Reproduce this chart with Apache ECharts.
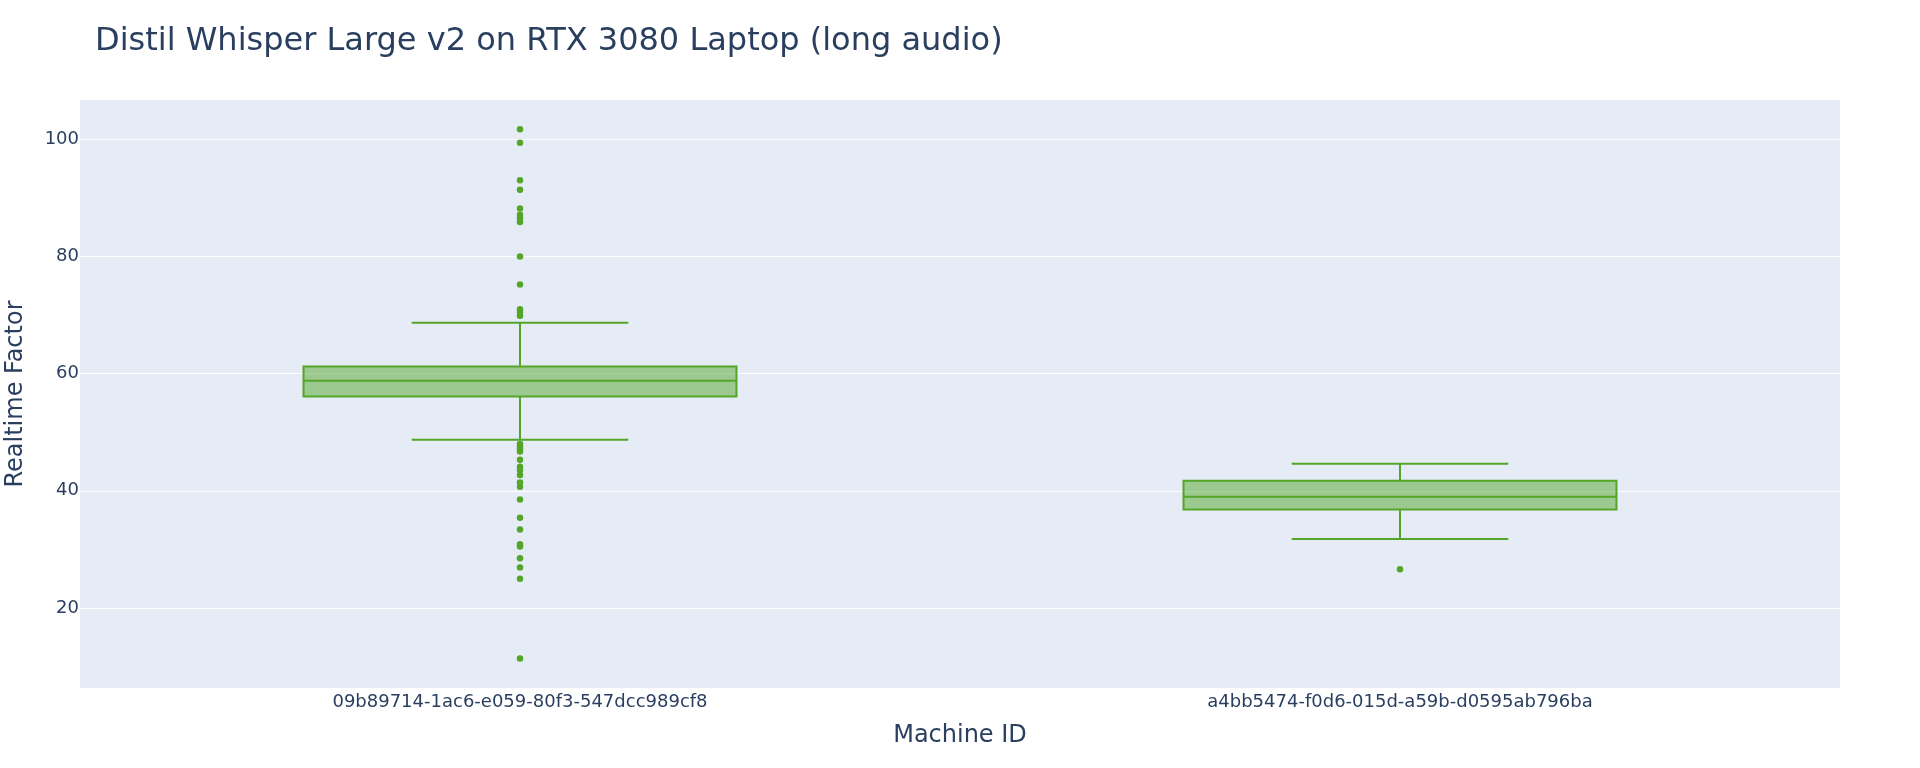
<!DOCTYPE html>
<html>
<head>
<meta charset="utf-8">
<script src="https://cdn.jsdelivr.net/npm/echarts@6/dist/echarts.min.js"></script>
<style>html,body{margin:0;padding:0;background:#fff}#c{width:1920px;height:768px}</style>
</head>
<body>
<div id="c"></div>
<script>
const categories = ['09b89714-1ac6-e059-80f3-547dcc989cf8', 'a4bb5474-f0d6-015d-a59b-d0595ab796ba'];
const whiskerLow = [48.7, 31.8];
const q1 = [56.1, 36.8];
const median = [58.8, 39.0];
const q3 = [61.2, 41.7];
const whiskerHigh = [68.7, 44.6];
const outliersA = [101.7, 99.4, 93.0, 91.4, 88.2, 87.1, 86.5, 85.9, 80.0, 75.2, 71.0, 70.5, 69.9,
  48.0, 47.6, 47.2, 46.7, 45.3, 44.1, 43.5, 42.7, 41.4, 40.7, 38.5, 35.4, 33.4, 30.9, 30.5, 28.5, 26.9, 25.0, 11.4];
const outliersB = [26.6];
const yMin = 6.35, yMax = 106.7;

const COLOR = 'rgb(84,165,40)';
const FILL = 'rgba(84,165,40,0.5)';
const TXT = '#2a3f5f';
const FONT = 'DejaVu Sans';

const boxData = categories.map((c, i) => [i, whiskerLow[i], q1[i], median[i], q3[i], whiskerHigh[i]]);
const outlierData = [];
outliersA.forEach(v => outlierData.push([0, v]));
outliersB.forEach(v => outlierData.push([1, v]));

const chart = echarts.init(document.getElementById('c'), null, {renderer: 'canvas'});
chart.setOption({
  backgroundColor: '#fff',
  animation: false,
  title: {
    text: 'Distil Whisper Large v2 on RTX 3080 Laptop (long audio)',
    left: 95, top: 26, padding: 0,
    textStyle: {fontFamily: FONT, fontSize: 32, fontWeight: 'normal', color: TXT}
  },
  grid: {left: 80, right: 80, top: 100, bottom: 80, show: true, backgroundColor: '#E5ECF6', borderWidth: 0,
    containLabel: false, outerBoundsMode: 'none'},
  xAxis: {
    type: 'category', data: categories, boundaryGap: true,
    axisLine: {show: false}, axisTick: {show: false}, splitLine: {show: false},
    axisLabel: {fontFamily: FONT, fontSize: 18, color: TXT, margin: 5},
    name: 'Machine ID', nameLocation: 'middle', nameGap: 36,
    nameTextStyle: {fontFamily: FONT, fontSize: 24, color: TXT}
  },
  yAxis: {
    type: 'value', min: yMin, max: yMax, splitNumber: 5,
    axisLine: {show: false}, axisTick: {show: false},
    splitLine: {show: true, showMinLine: false, showMaxLine: false, lineStyle: {color: '#fff', width: 1}},
    axisLabel: {fontFamily: FONT, fontSize: 18, color: TXT, margin: 1, showMinLabel: false, showMaxLabel: false,
      padding: [4, 0, 0, 0],
      formatter: v => (Math.abs(v % 20) < 1e-6 ? String(v) : '')},
    name: 'Realtime Factor', nameLocation: 'middle', nameGap: 52, nameRotate: 90,
    nameTextStyle: {fontFamily: FONT, fontSize: 24, color: TXT}
  },
  series: [
    {
      type: 'custom',
      data: boxData,
      encode: {x: 0, y: [1, 2, 3, 4, 5]},
      renderItem: function (params, api) {
        const ci = api.value(0);
        const bw = api.size([1, 0])[0];
        const hb = bw * 0.246;
        const hc = hb * 0.5;
        const pLo = api.coord([ci, api.value(1)]);
        const pQ1 = api.coord([ci, api.value(2)]);
        const pMed = api.coord([ci, api.value(3)]);
        const pQ3 = api.coord([ci, api.value(4)]);
        const pHi = api.coord([ci, api.value(5)]);
        const x = pQ1[0];
        const ls = {stroke: COLOR, lineWidth: 2, fill: null};
        return {
          type: 'group',
          children: [
            {type: 'line', shape: {x1: x, y1: pQ3[1], x2: x, y2: pHi[1]}, style: ls},
            {type: 'line', shape: {x1: x, y1: pQ1[1], x2: x, y2: pLo[1]}, style: ls},
            {type: 'line', shape: {x1: x - hc, y1: pHi[1], x2: x + hc, y2: pHi[1]}, style: ls},
            {type: 'line', shape: {x1: x - hc, y1: pLo[1], x2: x + hc, y2: pLo[1]}, style: ls},
            {type: 'rect', shape: {x: x - hb, y: pQ3[1], width: hb * 2, height: pQ1[1] - pQ3[1]},
              style: {fill: FILL, stroke: COLOR, lineWidth: 2}},
            {type: 'line', shape: {x1: x - hb, y1: pMed[1], x2: x + hb, y2: pMed[1]}, style: ls}
          ]
        };
      },
      z: 2
    },
    {
      type: 'scatter',
      data: outlierData,
      symbol: 'circle', symbolSize: 6.5,
      itemStyle: {color: COLOR, opacity: 1},
      z: 3
    }
  ]
});
</script>
</body>
</html>
